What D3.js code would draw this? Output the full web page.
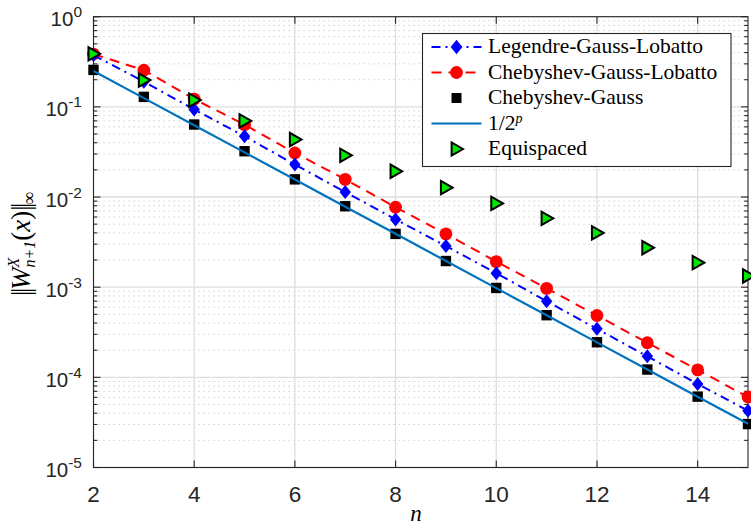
<!DOCTYPE html>
<html>
<head>
<meta charset="utf-8">
<script src="https://cdn.jsdelivr.net/npm/d3@7"></script>
<style>
  html, body { margin: 0; padding: 0; background: #fff; }
  svg { display: block; }
</style>
</head>
<body>
<svg id="chart" width="751" height="532"></svg>
<script>
// Polynomial degree n
const nValues = [2, 3, 4, 5, 6, 7, 8, 9, 10, 11, 12, 13, 14, 15];

// Sup-norm of the nodal polynomial W_{n+1}^X for each node family
const legendreGaussLobatto = [0.375, 0.19, 0.0936, 0.0472, 0.0229, 0.01137, 0.00565, 0.00286,
  0.00143, 0.000699, 0.000345, 0.000171, 0.0000845, 0.0000427];
const chebyshevGaussLobatto = [0.385, 0.255, 0.122, 0.0635, 0.0308, 0.0157, 0.0077, 0.0039,
  0.00192, 0.00097, 0.000485, 0.000242, 0.000121, 0.0000605];
const chebyshevGauss = [0.257, 0.129, 0.0637, 0.0322, 0.0157, 0.0079, 0.0039, 0.00195,
  0.00098, 0.000489, 0.000245, 0.000122, 0.0000611, 0.0000303];
const halfPower = [0.25, 0.125, 0.0625, 0.03125, 0.015625, 0.0078125, 0.00390625, 0.001953125,
  0.0009765625, 0.00048828125, 0.000244140625, 0.0001220703125, 0.00006103515625, 0.000030517578125];
const equispaced = [0.387, 0.198, 0.119, 0.0699, 0.0434, 0.029, 0.0193, 0.0127,
  0.0085, 0.0058, 0.0040, 0.00274, 0.00187, 0.00133];

// Axis ticks
const xTicks = [2, 4, 6, 8, 10, 12, 14];
const yExponents = [0, -1, -2, -3, -4, -5];

const svg = d3.select("#chart");
const pLeft = 93.5, pRight = 748, pTop = 16.7, pBottom = 467.5;

const x = d3.scaleLinear().domain([2, 15]).range([pLeft, pRight]);
const y = d3.scaleLog().domain([1e-5, 1]).range([pBottom, pTop]);

const axisColor = "#262626";
const serif = "'Liberation Serif', 'DejaVu Serif', serif";
const sans = "'Liberation Sans', Arial, sans-serif";

// Minor y values (2..9 x 10^k)
const yMinor = [];
for (let k = -5; k < 0; k++) for (let m = 2; m <= 9; m++) yMinor.push(m * Math.pow(10, k));

// Grid
const grid = svg.append("g");
grid.selectAll("line.ymin").data(yMinor).join("line")
  .attr("x1", pLeft).attr("x2", pRight)
  .attr("y1", d => y(d)).attr("y2", d => y(d))
  .attr("stroke", "#c4c4c4").attr("stroke-width", 1)
  .attr("stroke-dasharray", "1.2,3.8");
grid.selectAll("line.ymaj").data(yExponents).join("line")
  .attr("x1", pLeft).attr("x2", pRight)
  .attr("y1", d => y(Math.pow(10, d))).attr("y2", d => y(Math.pow(10, d)))
  .attr("stroke", "#dedede").attr("stroke-width", 1.3);
grid.selectAll("line.xmaj").data(xTicks).join("line")
  .attr("x1", d => x(d)).attr("x2", d => x(d))
  .attr("y1", pTop).attr("y2", pBottom)
  .attr("stroke", "#dedede").attr("stroke-width", 1.3);

// Axes box with inward ticks
const axes = svg.append("g").attr("stroke", axisColor).attr("fill", "none");
axes.append("rect").attr("x", pLeft).attr("y", pTop)
  .attr("width", pRight - pLeft).attr("height", pBottom - pTop).attr("stroke-width", 1.1);

const tickMaj = 7, tickMin = 3.8;
xTicks.forEach(t => {
  axes.append("line").attr("x1", x(t)).attr("x2", x(t)).attr("y1", pBottom).attr("y2", pBottom - tickMaj);
  axes.append("line").attr("x1", x(t)).attr("x2", x(t)).attr("y1", pTop).attr("y2", pTop + tickMaj);
});
yExponents.forEach(e => {
  const yy = y(Math.pow(10, e));
  axes.append("line").attr("x1", pLeft).attr("x2", pLeft + tickMaj).attr("y1", yy).attr("y2", yy);
  axes.append("line").attr("x1", pRight).attr("x2", pRight - tickMaj).attr("y1", yy).attr("y2", yy);
});
yMinor.forEach(v => {
  const yy = y(v);
  axes.append("line").attr("x1", pLeft).attr("x2", pLeft + tickMin).attr("y1", yy).attr("y2", yy);
  axes.append("line").attr("x1", pRight).attr("x2", pRight - tickMin).attr("y1", yy).attr("y2", yy);
});
axes.selectAll("line").attr("stroke-width", 1.1);

// Tick labels
svg.append("g").selectAll("text").data(xTicks).join("text")
  .attr("x", d => x(d)).attr("y", pBottom + 34)
  .attr("text-anchor", "middle")
  .attr("font-family", sans).attr("font-size", 22.5).attr("fill", axisColor)
  .text(d => d);

const yl = svg.append("g").selectAll("text").data(yExponents).join("text")
  .attr("x", 82).attr("y", d => y(Math.pow(10, d)) + 9.5)
  .attr("text-anchor", "end")
  .attr("font-family", sans).attr("font-size", 20.5).attr("fill", axisColor);
yl.append("tspan").text("10");
yl.append("tspan").attr("dy", -9).attr("font-size", 15.5).text(d => d === 0 ? "0" : "-" + (-d));

// Series
const lineGen = vals => d3.line().x((d, i) => x(nValues[i])).y(d => y(d))(vals);

const plot = svg.append("g");
const diamond = s => `M0,${-s} L${s * 0.82},0 L0,${s} L${-s * 0.82},0 Z`;
const square = s => `M${-s},${-s} H${s} V${s} H${-s} Z`;
const triangle = s => `M${s},0 L${-s * 0.75},${-s} L${-s * 0.75},${s} Z`;

// Chebyshev-Gauss-Lobatto: red dashed with filled circles
plot.append("path").attr("d", lineGen(chebyshevGaussLobatto))
  .attr("fill", "none").attr("stroke", "#ff0000").attr("stroke-width", 2)
  .attr("stroke-dasharray", "10,7");
plot.append("g").selectAll("circle").data(chebyshevGaussLobatto).join("circle")
  .attr("cx", (d, i) => x(nValues[i])).attr("cy", d => y(d)).attr("r", 6.4)
  .attr("fill", "#ff0000");

// Legendre-Gauss-Lobatto: blue dash-dot with diamonds
plot.append("path").attr("d", lineGen(legendreGaussLobatto))
  .attr("fill", "none").attr("stroke", "#0000ff").attr("stroke-width", 2)
  .attr("stroke-dasharray", "9,5,2,5");
plot.append("g").selectAll("path").data(legendreGaussLobatto).join("path")
  .attr("transform", (d, i) => `translate(${x(nValues[i])},${y(d)})`)
  .attr("d", diamond(7)).attr("fill", "#0000ff");

// Chebyshev-Gauss: black squares
plot.append("g").selectAll("path").data(chebyshevGauss).join("path")
  .attr("transform", (d, i) => `translate(${x(nValues[i])},${y(d)})`)
  .attr("d", square(5.2)).attr("fill", "#000");

// 1/2^p reference line
plot.append("path").attr("d", lineGen(halfPower))
  .attr("fill", "none").attr("stroke", "#0072bd").attr("stroke-width", 2.2);

// Equispaced nodes: green right-pointing triangles
plot.append("g").selectAll("path").data(equispaced).join("path")
  .attr("transform", (d, i) => `translate(${x(nValues[i])},${y(d)})`)
  .attr("d", triangle(6.7)).attr("fill", "#00e600")
  .attr("stroke", "#000").attr("stroke-width", 2).attr("stroke-linejoin", "miter");

// Legend
const leg = svg.append("g");
leg.append("rect").attr("x", 422.5).attr("y", 33.5).attr("width", 308.5).attr("height", 133)
  .attr("fill", "#fff").attr("stroke", axisColor).attr("stroke-width", 1.1);
const lx0 = 431.5, lx1 = 481.5, lxm = (lx0 + lx1) / 2, tx = 488;
const rows = [47, 72.5, 98, 123.5, 149];
const legendNames = ["Legendre-Gauss-Lobatto", "Chebyshev-Gauss-Lobatto", "Chebyshev-Gauss", "1/2", "Equispaced"];

leg.append("line").attr("x1", lx0).attr("x2", lx1).attr("y1", rows[0]).attr("y2", rows[0])
  .attr("stroke", "#0000ff").attr("stroke-width", 2).attr("stroke-dasharray", "9,5,2,5");
leg.append("path").attr("transform", `translate(${lxm},${rows[0]})`).attr("d", diamond(7.2)).attr("fill", "#0000ff");
leg.append("line").attr("x1", lx0).attr("x2", lx1).attr("y1", rows[1]).attr("y2", rows[1])
  .attr("stroke", "#ff0000").attr("stroke-width", 2).attr("stroke-dasharray", "10,7");
leg.append("circle").attr("cx", lxm).attr("cy", rows[1]).attr("r", 6.4).attr("fill", "#ff0000");
leg.append("path").attr("transform", `translate(${lxm},${rows[2]})`).attr("d", square(5)).attr("fill", "#000");
leg.append("line").attr("x1", lx0).attr("x2", lx1).attr("y1", rows[3]).attr("y2", rows[3])
  .attr("stroke", "#0072bd").attr("stroke-width", 2.2);
leg.append("path").attr("transform", `translate(${lxm},${rows[4]})`).attr("d", triangle(6.5))
  .attr("fill", "#00e600").attr("stroke", "#000").attr("stroke-width", 2);

const lt = leg.selectAll("text").data(legendNames).join("text")
  .attr("x", tx).attr("y", (d, i) => rows[i] + 6)
  .attr("font-family", serif).attr("font-size", 21.5).attr("fill", "#000")
  .text(d => d);
lt.filter((d, i) => i === 3).append("tspan").attr("dy", -7).attr("font-size", 14)
  .attr("font-style", "italic").text("p");

// x-axis label
svg.append("text").attr("x", 416).attr("y", 520.5).attr("text-anchor", "middle")
  .attr("font-family", serif).attr("font-style", "italic").attr("font-size", 23).text("n");

// y-axis label: ||W^X_{n+1}(x)||_inf, laid out piece by piece along the rotated baseline
const ylab = svg.append("g").attr("transform", "translate(30,244) rotate(-90)");
const pieces = [
  { t: "||", size: 27, dy: 0, ls: -2.5 },
  { t: "W", size: 27, dy: 0, italic: true },
  { t: "X", size: 16, dy: -11, italic: true, stackStart: true },
  { t: "n+1", size: 16, dy: 4.5, italic: true, stackEnd: true },
  { t: "(", size: 27, dy: 0 },
  { t: "x", size: 27, dy: 0, italic: true },
  { t: ")", size: 27, dy: 0 },
  { t: "||", size: 27, dy: 0, ls: -2.5 },
  { t: "\u221e", size: 18, dy: 4.5 }
];
let cursor = 0, stackX = 0, stackW = 0;
const made = [];
pieces.forEach(p => {
  let px = cursor;
  if (p.stackEnd) px = stackX;
  const el = ylab.append("text").attr("x", px).attr("y", p.dy)
    .attr("font-family", serif).attr("font-size", p.size)
    .attr("letter-spacing", p.ls || 0)
    .attr("font-style", p.italic ? "italic" : "normal").text(p.t);
  const w = el.node().getComputedTextLength();
  if (p.stackStart) { stackX = cursor; stackW = w; }
  else if (p.stackEnd) { cursor = stackX + Math.max(stackW, w); }
  else cursor += w;
  made.push(el);
});
made.forEach(el => el.attr("x", +el.attr("x") - cursor / 2));
</script>
</body>
</html>
